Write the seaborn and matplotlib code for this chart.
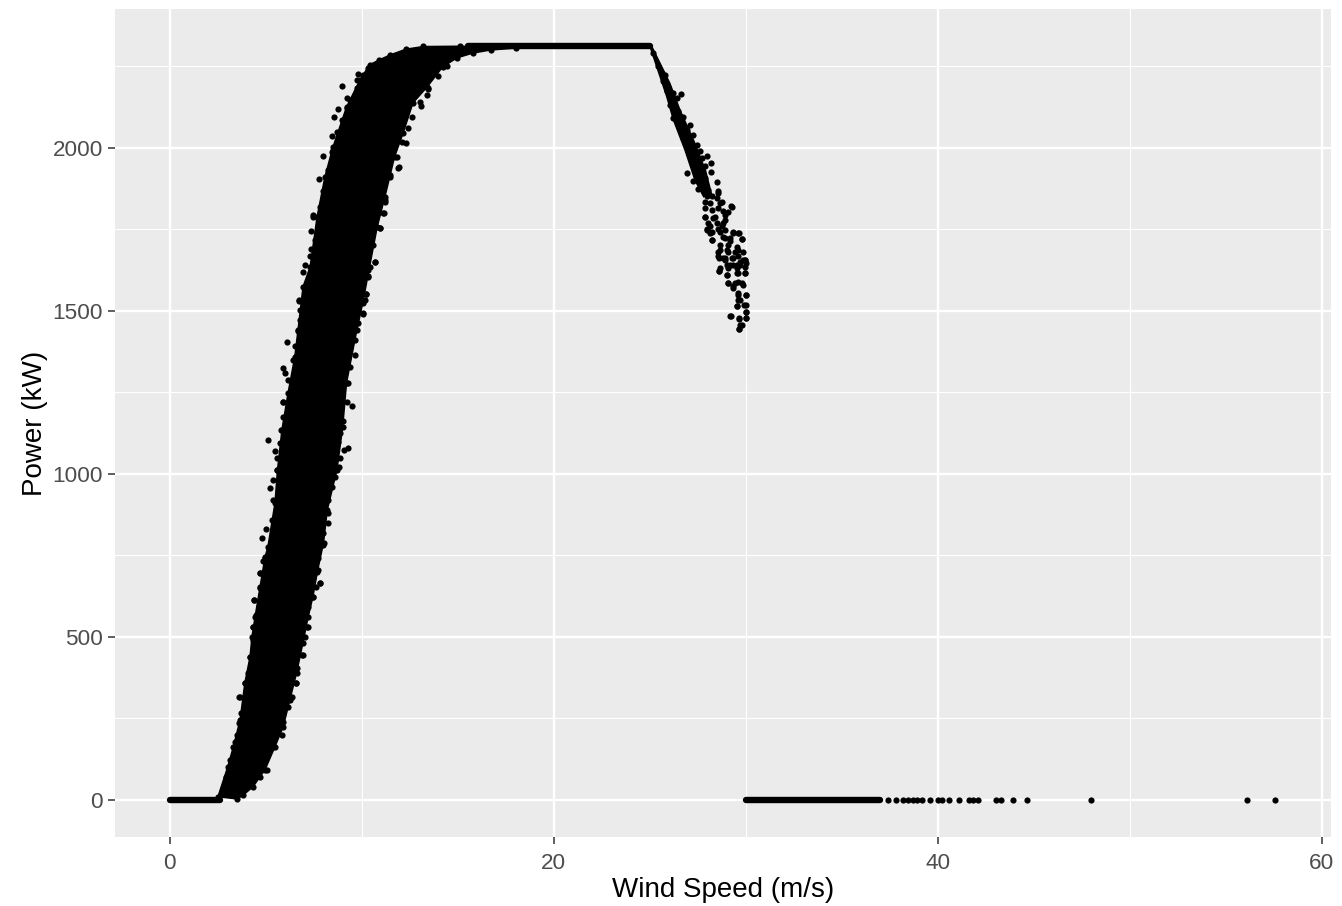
import pandas as pd
import seaborn as sns
import matplotlib.pyplot as plt
from matplotlib.ticker import MultipleLocator

# band outline (wind speed, power)
left_wind = [2.5, 3.0, 3.3, 3.65, 3.9, 4.17, 4.27, 4.43, 4.69, 4.95, 5.1, 5.47, 5.6, 5.83, 6.15, 6.5, 6.67, 6.93,
             7.3, 7.66, 8.07, 8.49, 9.2, 9.9, 10.4, 10.9, 11.46, 12.3, 13.2, 15.1]
left_power = [10, 100, 163, 245, 359, 439, 500, 561, 653, 745, 776, 911, 1012, 1135, 1248, 1359, 1442, 1574,
              1635, 1788, 1911, 2003, 2126, 2209, 2255, 2270, 2285, 2303, 2311, 2312]
right_wind = [3.5, 3.82, 4.34, 4.69, 4.95, 5.47, 5.9, 6.25, 6.6, 6.93, 7.2, 7.45, 7.7, 8.0, 8.2, 8.7, 9.0, 9.2,
              9.74, 10.05, 10.3, 10.4, 10.8, 11.2, 11.7, 12.15, 12.66, 13.4, 14.2, 14.95, 15.8, 16.7, 18.0]
right_power = [3, 15, 41, 71, 92, 163, 224, 307, 390, 482, 561, 623, 705, 788, 890, 1012, 1144, 1279,
               1442, 1525, 1604, 1635, 1758, 1850, 1972, 2046, 2138, 2187, 2248, 2276, 2291, 2300, 2306]

# loose points around the band
edge_wind = [8.96, 9.8, 9.74, 8.75, 8.54, 8.44, 7.97, 7.76, 8.44, 9.2, 7.97, 7.45, 7.34, 7.34, 7.03, 6.93,
             13.44, 13.4, 13.07, 12.3, 11.93, 11.46, 11.2, 11.15, 10.94, 10.68,
             6.1, 5.89, 6.0, 5.89, 5.1, 5.47, 5.2, 5.0, 4.8, 9.48, 9.27, 9.06, 8.85, 8.8, 8.23, 10.2, 10.05, 6.72,
             4.38, 4.84, 4.69, 4.32, 3.59, 3.44, 7.81, 7.6, 7.19, 6.56, 5.05, 6.88]
edge_power = [2190, 2227, 2209, 2120, 2095, 2037, 1975, 1905, 1988, 2153, 1868, 1794, 1745, 1690, 1641, 1620,
              2181, 2163, 2129, 2015, 1942, 1917, 1834, 1800, 1755, 1650,
              1405, 1325, 1310, 1221, 1104, 1071, 957, 831, 804, 1209, 1080, 1074, 1049, 1021, 850, 1552, 1491, 1531,
              613, 733, 696, 531, 316, 178, 666, 653, 531, 359, 92, 445]

# bumps on the band's edges
bump_wind = [6.72, 6.77, 6.77, 6.68, 6.51, 6.42, 6.16, 6.25, 5.9, 5.9, 5.78, 5.73, 5.59, 5.59, 5.35, 5.35, 5.30,
             10.33, 10.2, 10.16, 10.07, 9.81, 9.64, 9.64, 9.38, 9.29, 9.2, 9.03, 8.85, 8.77, 8.59, 8.59, 8.42, 8.25,
             8.25, 7.99,
             10.33, 10.07, 9.72, 9.38, 9.2, 8.94, 8.68, 8.51, 8.25, 8.07, 7.81, 7.47, 7.55, 7.29,
             14.41, 13.98, 13.45, 13.02, 12.59, 12.41, 12.07, 11.81, 11.89, 11.46, 11.2, 11.11, 10.94, 10.59, 10.68,
             10.33,
             4.95, 4.69, 4.69, 4.38, 4.48, 4.34, 4.31, 4.17, 4.08, 3.91, 3.65, 3.68, 3.61, 3.47, 3.39, 3.13, 2.92,
             7.99, 7.73, 7.64, 7.81, 7.47, 7.21, 7.15, 7.03, 6.91, 6.6, 6.56, 6.34, 6.17, 5.9, 5.82, 5.38]
bump_power = [1532, 1503, 1473, 1437, 1391, 1350, 1289, 1248, 1222, 1176, 1135, 1094, 1048, 1012, 982, 920, 859,
              1606, 1552, 1534, 1493, 1462, 1411, 1365, 1329, 1278, 1222, 1161, 1125, 1099, 1043, 992, 961, 920,
              880, 818,
              2244, 2224, 2183, 2147, 2122, 2086, 2050, 1994, 1933, 1871, 1820, 1789, 1718, 1667,
              2250, 2219, 2183, 2142, 2096, 2060, 2019, 1973, 1938, 1912, 1841, 1800, 1754, 1702, 1651,
              1626,
              741, 695, 649, 613, 567, 530, 491, 440, 389, 358, 317, 266, 237, 199, 179, 123, 72,
              782, 741, 700, 665, 624, 593, 532, 501, 445, 404, 358, 317, 286, 240, 199, 163]

# falling tail past cut-out
tail_core_wind = [25.0, 25.87, 26.22, 26.82, 27.35, 27.8, 28.2, 27.9, 27.3, 26.56, 26.04, 25.1]
tail_core_power = [2311, 2158, 2086, 1994, 1900, 1850, 1860, 1930, 2020, 2117, 2198, 2311]
tail_wind = [25.17, 25.44, 25.61, 25.78, 25.70, 25.96, 25.87, 26.22, 26.60, 26.13, 26.39, 26.04, 26.48, 26.22,
             26.74, 27.09, 26.56, 26.91, 27.26, 26.74, 27.09, 27.43, 27.17, 27.61, 27.99, 27.26, 27.69, 28.18,
             27.43, 27.87, 26.95, 28.18, 27.61, 27.87, 27.26, 28.51, 27.69, 27.52, 28.04, 28.56, 27.95, 28.47,
             28.77, 28.13, 29.26, 27.87, 28.56, 29.08, 27.87, 28.30, 28.91, 28.13, 28.73, 27.95, 28.13, 28.65,
             29.34, 29.65, 28.25, 28.91, 29.17, 29.78, 28.65, 29.08, 29.60, 28.56, 28.91, 29.95, 29.69, 29.34,
             28.61, 29.08, 29.95, 29.52, 29.0, 29.08, 29.86, 29.34, 29.60, 29.60, 29.98, 29.69, 29.52, 29.98,
             29.98, 29.2, 29.98, 29.65, 29.78, 29.65,
             27.86, 28.21, 28.56, 28.64, 29.22, 28.82, 28.21, 27.86, 28.38, 28.90, 28.03, 28.47, 28.82, 27.95,
             28.21, 28.56, 28.90, 29.34, 29.60, 28.24, 28.82, 29.16, 29.77, 28.64, 29.08, 29.51, 28.56, 28.99,
             29.42, 29.86, 28.82, 29.25, 29.6, 29.94, 29.16, 29.68, 29.98, 28.64, 29.51,
             28.59, 28.90, 29.34, 29.86, 28.99, 29.51, 29.94, 28.59, 28.99, 29.60, 29.94, 29.08, 29.42, 29.77,
             29.34, 29.60, 29.98, 29.60, 29.91, 29.51, 29.98, 29.16, 29.65, 29.98, 29.68, 29.63]
tail_power = [2290, 2250, 2229, 2224, 2204, 2188, 2173, 2168, 2166, 2147, 2152, 2132, 2112, 2091,
              2096, 2071, 2065, 2055, 2040, 2030, 2014, 2009, 1989, 1989, 1975, 1968, 1968, 1955,
              1953, 1943, 1924, 1927, 1922, 1907, 1897, 1894, 1887, 1873, 1871, 1869, 1851, 1846,
              1835, 1830, 1820, 1815, 1815, 1802, 1787, 1784, 1779, 1759, 1759, 1749, 1738, 1743,
              1738, 1740, 1716, 1723, 1713, 1720, 1687, 1682, 1687, 1667, 1656, 1656, 1651, 1641,
              1623, 1631, 1616, 1616, 1610, 1585, 1580, 1570, 1590, 1549, 1549, 1534, 1515, 1518,
              1498, 1483, 1478, 1474, 1457, 1445,
              1835, 1851, 1861, 1830, 1822, 1805, 1810, 1789, 1789, 1794, 1769, 1769, 1769, 1750,
              1743, 1750, 1748, 1743, 1738, 1718, 1728, 1723, 1721, 1702, 1702, 1697, 1682, 1687,
              1682, 1682, 1661, 1661, 1667, 1656, 1641, 1641, 1646, 1631, 1631,
              1662, 1662, 1662, 1657, 1641, 1641, 1636, 1623, 1611, 1616, 1616, 1585, 1585, 1585,
              1575, 1554, 1549, 1534, 1519, 1514, 1498, 1483, 1478, 1478, 1457, 1445]

# runs that read as solid lines
zero_run = [0, 2.6]
high_zero_run = [30.0, 37.0]
plateau_run = [15.5, 25.0]
plateau_power = 2311

# single storm readings at zero power
storm_wind = [37.4, 37.8, 38.2, 38.46, 38.72, 38.9, 39.19, 39.59, 40.0, 40.2, 40.58, 41.1, 41.6, 41.8, 42.1,
              43.0, 43.3, 43.9, 44.66, 47.99, 56.07, 57.57]

sns.set_theme(style="darkgrid", rc={
    "axes.facecolor": "#EBEBEB",
    "axes.edgecolor": "none",
    "grid.color": "white",
    "text.color": "black",
    "axes.labelcolor": "black",
    "xtick.color": "#4D4D4D",
    "ytick.color": "#4D4D4D",
})
plt.rcParams["font.family"] = ["Liberation Sans", "DejaVu Sans"]

fig = plt.figure(figsize=(13.42, 9.06), dpi=100)
ax = fig.add_axes([115 / 1342, 1 - 837 / 906, (1331 - 115) / 1342, (837 - 9) / 906])

# solid parts of the cloud
band_x = left_wind + right_wind[::-1]
band_y = left_power + right_power[::-1]
ax.fill(band_x, band_y, color="black", lw=1, zorder=3)
ax.fill(tail_core_wind, tail_core_power, color="black", lw=1, zorder=3)

runs = pd.DataFrame({
    "wind": zero_run + high_zero_run + plateau_run,
    "power": [0, 0, 0, 0, plateau_power, plateau_power],
    "run": ["low", "low", "high", "high", "plateau", "plateau"],
})
sns.lineplot(data=runs, x="wind", y="power", units="run", estimator=None, color="black",
             lw=4.6, solid_capstyle="round", ax=ax, zorder=3)

points = pd.DataFrame({
    "wind": left_wind + right_wind + edge_wind + bump_wind + tail_wind + storm_wind,
    "power": left_power + right_power + edge_power + bump_power + tail_power + [0] * len(storm_wind),
})
sns.scatterplot(data=points, x="wind", y="power", color="black", s=20, linewidth=0, ax=ax, zorder=4)

ax.set_xlim(-2.86, 60.47)
ax.set_ylim(-113.5, 2426)
ax.set_xticks([0, 20, 40, 60])
ax.set_yticks([0, 500, 1000, 1500, 2000])
ax.xaxis.set_minor_locator(MultipleLocator(10))
ax.yaxis.set_minor_locator(MultipleLocator(250))
ax.grid(True, which="major", color="white", lw=1.7)
ax.grid(True, which="minor", color="white", lw=0.85)
ax.set_axisbelow(True)
ax.tick_params(which="major", length=5, width=1.1, color="#333333", labelsize=16.2, bottom=True, left=True)
ax.tick_params(axis="x", which="major", pad=6.5)
ax.tick_params(axis="y", which="major", pad=3.5)
ax.tick_params(which="minor", length=0)
ax.set_xlabel("Wind Speed (m/s)", fontsize=20, labelpad=2.5)
ax.set_ylabel("Power (kW)", fontsize=20, labelpad=3.5)

fig.savefig("out.png", dpi=100)
